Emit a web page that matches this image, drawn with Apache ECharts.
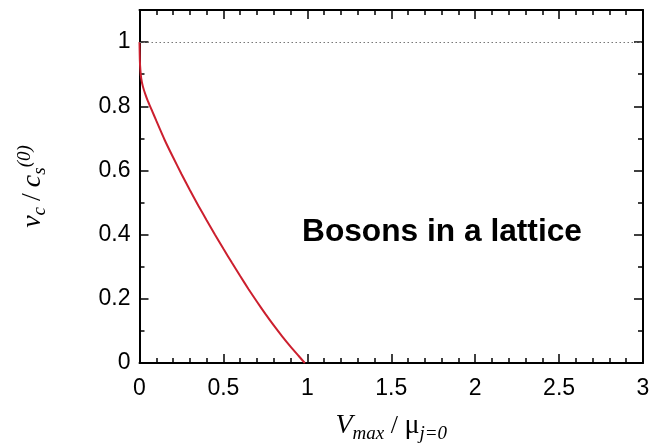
<!DOCTYPE html>
<html>
<head>
<meta charset="utf-8">
<script src="https://cdn.jsdelivr.net/npm/echarts@6/dist/echarts.min.js"></script>
<style>
html,body{margin:0;padding:0;background:#fff;}
#chart{width:655px;height:448px;}
</style>
</head>
<body>
<div id="chart"></div>
<script>
// Data
const curveX = [0, 0.002, 0.005, 0.01, 0.02, 0.035, 0.05, 0.075, 0.1, 0.15, 0.2, 0.25, 0.3, 0.35, 0.4, 0.45, 0.5, 0.55, 0.6, 0.65, 0.7, 0.75, 0.8, 0.85, 0.9, 0.95, 0.985];
const curveY = [1, 0.945, 0.915, 0.888, 0.862, 0.837, 0.816, 0.786, 0.755, 0.695, 0.641, 0.589, 0.539, 0.491, 0.445, 0.400, 0.356, 0.313, 0.271, 0.230, 0.191, 0.153, 0.117, 0.083, 0.051, 0.021, 0];
const refLineY = 1;
const xMajorTicks = [0, 0.5, 1, 1.5, 2, 2.5, 3];
const xMinorTicks = [0.1,0.2,0.3,0.4,0.6,0.7,0.8,0.9,1.1,1.2,1.3,1.4,1.6,1.7,1.8,1.9,2.1,2.2,2.3,2.4,2.6,2.7,2.8,2.9];
const yMajorTicks = [0, 0.2, 0.4, 0.6, 0.8, 1];
const yMinorTicks = [0.1, 0.3, 0.5, 0.7, 0.9];
const annotation = 'Bosons in a lattice';

const xMin = 0, xMax = 3, yMin = 0, yMax = 1.1;
const lineCol = '#000';
const tickFont = {fontFamily: 'Liberation Sans, Arial, sans-serif', fontSize: 23, color: '#000'};

function xAxisDef(pos, values, len, showLabel, showLine) {
  return {
    type: 'value', position: pos, min: xMin, max: xMax,
    axisLine: {show: showLine, onZero: false, lineStyle: {color: lineCol, width: 2}},
    axisTick: {show: true, inside: true, length: len, customValues: values, lineStyle: {color: lineCol, width: 1.5}},
    axisLabel: showLabel ? Object.assign({show: true, margin: 14, customValues: xMajorTicks, formatter: v => String(v)}, tickFont) : {show: false},
    splitLine: {show: false}
  };
}
function yAxisDef(pos, values, len, showLabel, showLine) {
  return {
    type: 'value', position: pos, min: yMin, max: yMax,
    axisLine: {show: showLine, onZero: false, lineStyle: {color: lineCol, width: 2}},
    axisTick: {show: true, inside: true, length: len, customValues: values, lineStyle: {color: lineCol, width: 1.5}},
    axisLabel: showLabel ? Object.assign({show: true, margin: 9, customValues: yMajorTicks, formatter: v => String(v)}, tickFont) : {show: false},
    splitLine: {show: false}
  };
}

const serif = 'Liberation Serif, Times New Roman, serif';
const xa0 = xAxisDef('bottom', xMajorTicks, 9, true, true);
xa0.name = '{it|V}{sub|max}{n| / }{mu|μ}{sub|j=0}';
xa0.nameLocation = 'middle';
xa0.nameGap = 46;
xa0.nameTextStyle = {
  rich: {
    it: {fontFamily: serif, fontStyle: 'italic', fontSize: 28, lineHeight: 34, color: '#000'},
    n: {fontFamily: serif, fontSize: 26, lineHeight: 34, color: '#000'},
    mu: {fontFamily: serif, fontSize: 28, lineHeight: 34, color: '#000'},
    sub: {fontFamily: serif, fontStyle: 'italic', fontSize: 19, lineHeight: 19, verticalAlign: 'bottom', color: '#000'}
  }
};
const ya0 = yAxisDef('left', yMajorTicks, 9, true, true);
ya0.name = '{it|v}{sub|c}{n|/}{it|c}{sub|s}{sup|(0)}';
ya0.nameLocation = 'middle';
ya0.nameGap = 90;
ya0.nameTextStyle = {
  rich: {
    it: {fontFamily: serif, fontStyle: 'italic', fontSize: 28, lineHeight: 34, color: '#000'},
    n: {fontFamily: serif, fontSize: 28, lineHeight: 34, color: '#000', padding: [0, 6, 0, 6]},
    sub: {fontFamily: serif, fontStyle: 'italic', fontSize: 19, lineHeight: 19, verticalAlign: 'bottom', color: '#000'},
    sup: {fontFamily: serif, fontStyle: 'italic', fontSize: 19, lineHeight: 19, verticalAlign: 'top', color: '#000'}
  }
};

const chart = echarts.init(document.getElementById('chart'), null, {renderer: 'canvas'});
chart.setOption({
  backgroundColor: '#fff',
  animation: false,
  grid: {left: 139.5, right: 12, top: 10, bottom: 84, containLabel: false},
  xAxis: [
    xa0,
    xAxisDef('bottom', xMinorTicks, 5, false, false),
    xAxisDef('top', xMajorTicks, 9, false, true),
    xAxisDef('top', xMinorTicks, 5, false, false)
  ],
  yAxis: [
    ya0,
    yAxisDef('left', yMinorTicks, 5, false, false),
    yAxisDef('right', yMajorTicks, 9, false, true),
    yAxisDef('right', yMinorTicks, 5, false, false)
  ],
  series: [{
    type: 'line',
    xAxisIndex: 0, yAxisIndex: 0,
    data: curveX.map((x, i) => [x, curveY[i]]),
    showSymbol: false,
    smooth: 0.2,
    lineStyle: {color: '#cc1f2e', width: 2},
    z: 3,
    markLine: {
      silent: true,
      symbol: ['none', 'none'],
      label: {show: false},
      lineStyle: {color: '#777', type: [1.5, 2.5], width: 1},
      data: [{yAxis: refLineY}]
    }
  }],
  graphic: [{
    type: 'text',
    left: 302,
    top: 216,
    style: {
      text: annotation,
      font: 'bold 31.7px "Liberation Sans", Arial, sans-serif',
      fill: '#000'
    }
  }]
});
</script>
</body>
</html>
